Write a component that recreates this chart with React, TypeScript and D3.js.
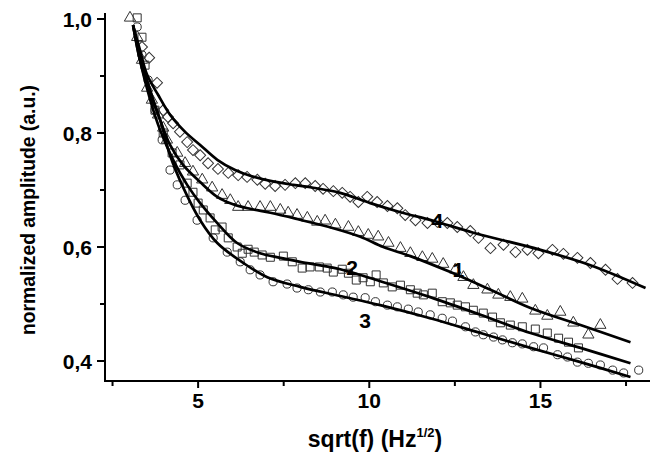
import React from "react";
import * as d3 from "d3";

// ---- data (x = sqrt(f), y = normalized amplitude) ----
const xTicksMajor = [5, 10, 15];
const xTicksMinor = [2.5, 7.5, 12.5, 17.5];
const yTicksMajor = [0.4, 0.6, 0.8, 1.0];
const yTickLabels = ["0,4", "0,6", "0,8", "1,0"];
const yTicksMinor = [0.5, 0.7, 0.9];

// series 4 (diamonds)
const s4x = [3.36,3.57,3.80,3.98,4.12,4.27,4.47,4.68,4.85,5.06,5.29,5.58,5.88,6.17,6.43,6.73,6.96,7.25,7.54,7.84,8.13,8.42,8.65,8.95,9.21,9.44,9.68,9.94,10.23,10.53,10.82,11.05,11.35,11.70,11.99,12.28,12.57,12.95,13.19,13.54,13.92,14.27,14.62,14.94,15.35,15.67,16.08,16.46,16.90,17.25,17.69];
const s4y = [0.951,0.932,0.888,0.840,0.828,0.817,0.802,0.784,0.770,0.761,0.747,0.737,0.730,0.726,0.723,0.718,0.711,0.707,0.709,0.712,0.712,0.707,0.702,0.698,0.695,0.688,0.679,0.688,0.679,0.672,0.668,0.656,0.647,0.642,0.644,0.642,0.635,0.628,0.616,0.598,0.604,0.591,0.595,0.589,0.595,0.588,0.581,0.572,0.560,0.544,0.537];
// series 1 (triangles)
const s1x = [3.01,3.22,3.36,3.51,3.65,3.83,3.98,4.09,4.39,4.62,4.85,5.12,5.41,5.70,5.94,6.17,6.46,6.81,7.11,7.40,7.63,7.89,8.19,8.48,8.71,9.01,9.39,9.68,9.97,10.26,10.56,10.91,11.20,11.55,11.84,12.16,12.51,12.75,13.04,13.45,13.77,14.12,14.47,14.85,15.20,15.58,15.96,16.40,16.75];
const s1y = [1.002,0.968,0.928,0.879,0.858,0.832,0.809,0.788,0.765,0.747,0.732,0.718,0.704,0.691,0.682,0.670,0.670,0.670,0.670,0.665,0.660,0.656,0.651,0.644,0.646,0.639,0.635,0.626,0.621,0.618,0.607,0.598,0.589,0.582,0.579,0.570,0.560,0.547,0.533,0.525,0.516,0.512,0.509,0.488,0.479,0.486,0.467,0.446,0.463];
// series 2 (squares)
const s2x = [3.22,3.36,3.45,3.74,3.98,4.24,4.47,4.68,4.85,5.00,5.15,5.35,5.50,5.70,5.88,6.14,6.29,6.46,6.64,6.87,7.11,7.49,7.75,8.04,8.27,8.54,8.77,8.95,9.21,9.39,9.62,9.82,10.03,10.20,10.41,10.67,10.91,11.20,11.40,11.58,11.84,12.13,12.37,12.57,12.81,13.04,13.33,13.60,13.83,14.12,14.47,14.85,15.20,15.53,15.82,16.11];
const s2y = [1.002,0.968,0.919,0.840,0.800,0.765,0.744,0.712,0.696,0.677,0.665,0.651,0.630,0.635,0.616,0.600,0.589,0.596,0.591,0.586,0.582,0.584,0.574,0.563,0.565,0.565,0.563,0.556,0.561,0.554,0.542,0.546,0.539,0.551,0.537,0.530,0.533,0.525,0.519,0.516,0.519,0.504,0.502,0.498,0.495,0.489,0.484,0.477,0.467,0.463,0.460,0.456,0.449,0.440,0.433,0.423];
// series 3 (circles)
const s3x = [3.22,3.36,3.54,3.74,3.95,4.18,4.39,4.62,4.97,5.44,5.85,6.23,6.52,6.81,7.19,7.60,7.89,8.22,8.57,8.92,9.24,9.53,9.88,10.18,10.53,10.82,11.14,11.43,11.78,12.13,12.43,12.81,13.10,13.33,13.63,13.89,14.18,14.47,14.80,15.09,15.50,15.79,16.08,16.40,16.75,17.11,17.43,17.87];
const s3y = [0.986,0.937,0.893,0.840,0.788,0.735,0.709,0.682,0.647,0.616,0.591,0.574,0.560,0.551,0.539,0.535,0.528,0.525,0.521,0.521,0.516,0.512,0.511,0.504,0.498,0.495,0.491,0.486,0.481,0.475,0.470,0.460,0.451,0.446,0.442,0.437,0.432,0.430,0.425,0.423,0.411,0.407,0.398,0.396,0.393,0.384,0.379,0.384];

// fitted curves
const f4x = [3.10,3.30,3.51,3.83,4.18,4.62,5.06,5.56,6.08,6.52,7.11,7.78,8.36,9.15,10.03,10.91,11.87,13.04,15.00,16.46,18.07];
const f4y = [0.989,0.946,0.902,0.867,0.832,0.802,0.779,0.753,0.735,0.725,0.716,0.709,0.704,0.695,0.677,0.661,0.646,0.625,0.595,0.568,0.528];
const f1x = [3.10,3.30,3.60,3.89,4.18,4.56,5.06,5.56,6.02,6.52,7.11,7.89,8.95,9.74,10.41,11.20,12.37,13.54,14.71,16.17,17.63];
const f1y = [0.989,0.937,0.875,0.823,0.779,0.744,0.714,0.688,0.675,0.667,0.660,0.649,0.633,0.618,0.600,0.584,0.556,0.525,0.493,0.463,0.433];
const f2x = [3.10,3.30,3.60,3.89,4.27,4.68,5.06,5.56,6.14,6.81,7.40,7.98,9.15,10.32,11.78,13.25,14.71,16.17,17.63];
const f2y = [0.989,0.928,0.858,0.805,0.753,0.709,0.677,0.642,0.607,0.589,0.581,0.574,0.561,0.540,0.512,0.481,0.449,0.423,0.396];
const f3x = [3.10,3.30,3.60,3.89,4.18,4.56,5.06,5.56,6.32,7.02,7.98,9.15,10.32,11.78,13.25,14.71,16.17,17.63];
const f3y = [0.989,0.928,0.867,0.823,0.761,0.705,0.647,0.607,0.572,0.547,0.530,0.514,0.498,0.475,0.449,0.423,0.398,0.372];

const curveLabels = ["4", "1", "2", "3"];
const curveLabelX = [11.99, 12.60, 9.50, 9.88];
const curveLabelY = [0.647, 0.560, 0.565, 0.472];

const zip = (xs: number[], ys: number[]) => xs.map((x, i) => [x, ys[i]] as [number, number]);

export default function App() {
  const W = 653, H = 456;
  const x = d3.scaleLinear().domain([2.28, 18.2]).range([105, 650]);
  const y = d3.scaleLinear().domain([0.3649, 1.0105]).range([381, 13]);
  const line = d3.line<[number, number]>().x(d => x(d[0])).y(d => y(d[1])).curve(d3.curveCatmullRom.alpha(0.5));

  const font = "'Liberation Sans', Arial, Helvetica, sans-serif";
  const mk = "#333";

  const tri = d3.symbol().type(d3.symbolTriangle).size(55)()!;
  const sq = d3.symbol().type(d3.symbolSquare).size(64)()!;
  const dia = d3.symbol().type(d3.symbolSquare).size(60)()!;
  const circ = d3.symbol().type(d3.symbolCircle).size(52)()!;

  const fits = [zip(f4x, f4y), zip(f1x, f1y), zip(f2x, f2y), zip(f3x, f3y)];

  return (
    <svg width={W} height={H} style={{ position: "absolute", left: 0, top: 0, background: "#fff" }}>
      <rect width={W} height={H} fill="#fff" />
      {/* markers */}
      <g fill="none" stroke={mk} strokeWidth={1}>
        {zip(s4x, s4y).map((d, i) => (
          <path key={"d" + i} d={dia} transform={`translate(${x(d[0])},${y(d[1])}) rotate(45)`} />
        ))}
        {zip(s1x, s1y).map((d, i) => (
          <path key={"t" + i} d={tri} transform={`translate(${x(d[0])},${y(d[1])})`} />
        ))}
        {zip(s2x, s2y).map((d, i) => (
          <path key={"s" + i} d={sq} transform={`translate(${x(d[0])},${y(d[1])})`} />
        ))}
        {zip(s3x, s3y).map((d, i) => (
          <path key={"c" + i} d={circ} transform={`translate(${x(d[0])},${y(d[1])})`} />
        ))}
      </g>
      {/* fit lines */}
      <g fill="none" stroke="#000" strokeWidth={2.7} strokeLinejoin="round">
        {fits.map((f, i) => <path key={i} d={line(f) || ""} />)}
      </g>
      {/* curve labels */}
      <g fontFamily={font} fontWeight="bold" fontSize={21} textAnchor="middle" fill="#000">
        {curveLabels.map((t, i) => (
          <text key={t} x={x(curveLabelX[i])} y={y(curveLabelY[i])} dy="0.36em">{t}</text>
        ))}
      </g>
      {/* axes */}
      <g stroke="#000" strokeWidth={2} fill="none">
        <line x1={105} x2={105} y1={13} y2={382} />
        <line x1={104} x2={650} y1={381} y2={381} />
        {yTicksMajor.map(v => <line key={"ym" + v} x1={97} x2={105} y1={y(v)} y2={y(v)} />)}
        {yTicksMinor.map(v => <line key={"yn" + v} x1={100} x2={105} y1={y(v)} y2={y(v)} />)}
        {xTicksMajor.map(v => <line key={"xm" + v} x1={x(v)} x2={x(v)} y1={381} y2={388} />)}
        {xTicksMinor.map(v => <line key={"xn" + v} x1={x(v)} x2={x(v)} y1={381} y2={386} />)}
      </g>
      <g fontFamily={font} fontWeight="bold" fontSize={21} fill="#000">
        {yTicksMajor.map((v, i) => (
          <text key={"yl" + v} x={92} y={y(v)} dy="0.36em" textAnchor="end">{yTickLabels[i]}</text>
        ))}
        {xTicksMajor.map(v => (
          <text key={"xl" + v} x={x(v)} y={408} textAnchor="middle">{v}</text>
        ))}
      </g>
      <text x={375} y={447} textAnchor="middle" fontFamily={font} fontWeight="bold" fontSize={23} fill="#000">
        sqrt(f) (Hz<tspan fontSize={13} dy={-10}>1/2</tspan><tspan dy={10}>)</tspan>
      </text>
      <text transform="translate(35,210) rotate(-90)" textAnchor="middle" fontFamily={font} fontWeight="bold"
        fontSize={21} fill="#000" textLength={250} lengthAdjust="spacingAndGlyphs">
        normalized amplitude (a.u.)
      </text>
    </svg>
  );
}
